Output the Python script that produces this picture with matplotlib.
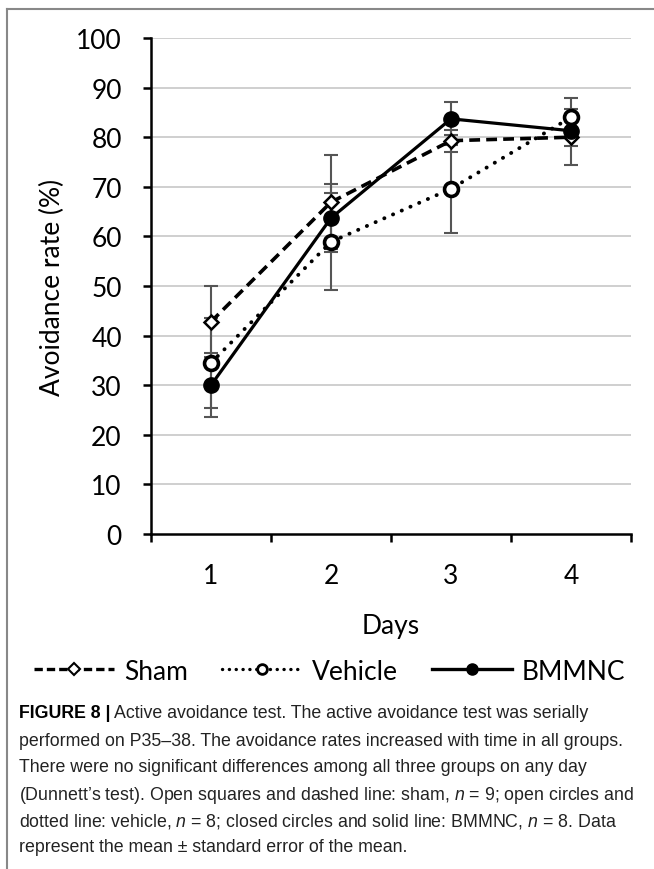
import matplotlib
matplotlib.use("Agg")
import matplotlib.pyplot as plt
from matplotlib.lines import Line2D
import numpy as np

# ---- data ----
days = [1, 2, 3, 4]
sham = [42.8, 66.9, 79.3, 80.0]
sham_err = [7.1, 9.5, 2.2, 5.7]
vehicle = [34.5, 58.9, 69.6, 84.0]
vehicle_err = [9.0, 9.8, 8.9, 4.0]
bmmnc = [30.0, 63.7, 83.7, 81.3]
bmmnc_err = [6.5, 6.8, 3.3, 3.0]
yticks = [0, 10, 20, 30, 40, 50, 60, 70, 80, 90, 100]
series_names = ["Sham", "Vehicle", "BMMNC"]

AX_FONT = ["Lato", "DejaVu Sans"]
CAP_FONT = ["Liberation Sans Narrow", "Liberation Sans", "DejaVu Sans"]

plt.rcParams["mathtext.fontset"] = "custom"
plt.rcParams["mathtext.it"] = "Liberation Sans:italic"
plt.rcParams["mathtext.rm"] = "Liberation Sans"

W, H = 654, 870
fig = plt.figure(figsize=(W / 100, H / 100), dpi=100)

def px(x0, y0, x1, y1):
    return [x0 / W, 1 - y1 / H, (x1 - x0) / W, (y1 - y0) / H]

ax = fig.add_axes(px(151, 39, 631, 535))
ax.set_xlim(0.5, 4.5)
ax.set_ylim(0, 100)

for y in yticks[1:]:
    ax.axhline(y, color="#cfcfcf", lw=1.4, zorder=0)

ecol = "#555555"
for vals, errs in [(sham, sham_err), (vehicle, vehicle_err), (bmmnc, bmmnc_err)]:
    ax.errorbar(days, vals, yerr=errs, fmt="none", ecolor=ecol, elinewidth=1.5,
                capsize=5, capthick=1.5, zorder=2)

ax.plot(days, sham, color="black", lw=2.6, ls=(0, (3.0, 1.7)), marker="D",
        ms=7, mfc="white", mec="black", mew=1.8, zorder=4)
ax.plot(days, vehicle, color="black", lw=2.8, ls=(0, (0.05, 2.4)),
        dash_capstyle="round", marker="o", ms=10, mfc="white", mec="black",
        mew=2.6, zorder=4)
ax.plot(days, bmmnc, color="black", lw=2.3, ls="-", marker="o", ms=11,
        mfc="black", mec="black", zorder=5)

for s in ["top", "right"]:
    ax.spines[s].set_visible(False)
for s in ["left", "bottom"]:
    ax.spines[s].set_linewidth(1.8)
    ax.spines[s].set_color("black")

FS = 19
ax.set_yticks(yticks)
ax.set_yticklabels([str(v) for v in yticks], family=AX_FONT, fontsize=FS)
ax.set_xticks([0.5, 1.5, 2.5, 3.5, 4.5])
ax.set_xticklabels([])
ax.set_xticks(days, minor=True)
ax.set_xticklabels([str(d) for d in days], minor=True, family=AX_FONT, fontsize=FS)
ax.tick_params(axis="x", which="major", direction="out", length=6, width=1.8)
ax.tick_params(axis="x", which="minor", length=0, pad=21)
ax.tick_params(axis="y", direction="out", length=6, width=1.8, pad=15)

ax.set_ylabel("Avoidance rate (%)", family=AX_FONT, fontsize=FS, labelpad=8)
ax.set_xlabel("Days", family=AX_FONT, fontsize=FS, labelpad=18)

handles = [
    Line2D([], [], color="black", lw=2.4, ls=(0, (2.5, 1.2)), marker="D", ms=6,
           mfc="white", mec="black", mew=1.5),
    Line2D([], [], color="black", lw=2.4, ls=(0, (0.05, 2.0)), dash_capstyle="round",
           marker="o", ms=7, mfc="white", mec="black", mew=2.0),
    Line2D([], [], color="black", lw=2.4, ls="-", marker="o", ms=8, mfc="black",
           mec="black"),
]
fig.legend(handles, series_names, loc="center", bbox_to_anchor=(330 / W, 1 - 672 / H),
           ncol=3, frameon=False, prop={"family": AX_FONT, "size": FS},
           handlelength=3.0, columnspacing=1.3, handletextpad=0.4)

# page frame
fig.add_artist(Line2D([7 / W, 7 / W], [0, 1 - 10 / H], color="#888888", lw=1.5,
                      transform=fig.transFigure))
fig.add_artist(Line2D([7 / W, 1], [1 - 10 / H, 1 - 10 / H], color="#888888", lw=1.5,
                      transform=fig.transFigure))

# caption
lines = [
    "Active avoidance test. The active avoidance test was serially",
    "performed on P35–38. The avoidance rates increased with time in all groups.",
    "There were no significant differences among all three groups on any day",
    "(Dunnett’s test). Open squares and dashed line: sham, $n$ = 9; open circles and",
    "dotted line: vehicle, $n$ = 8; closed circles and solid line: BMMNC, $n$ = 8. Data",
    "represent the mean ± standard error of the mean.",
]
ys = [714, 741, 768, 795, 822, 848]
fs = 12.8
t0 = fig.text(19 / W, 1 - ys[0] / H, "FIGURE 8 |", family=CAP_FONT, fontsize=fs,
              fontweight="bold", va="center", ha="left")
fig.canvas.draw()
bb = t0.get_window_extent()
x_after = (bb.x1 + 4) / W
for i, (ln, y) in enumerate(zip(lines, ys)):
    x = x_after if i == 0 else 19 / W
    fig.text(x, 1 - y / H, ln, family=CAP_FONT, fontsize=fs, va="center", ha="left",
             color="#222222")

fig.savefig("out.png", dpi=100)
